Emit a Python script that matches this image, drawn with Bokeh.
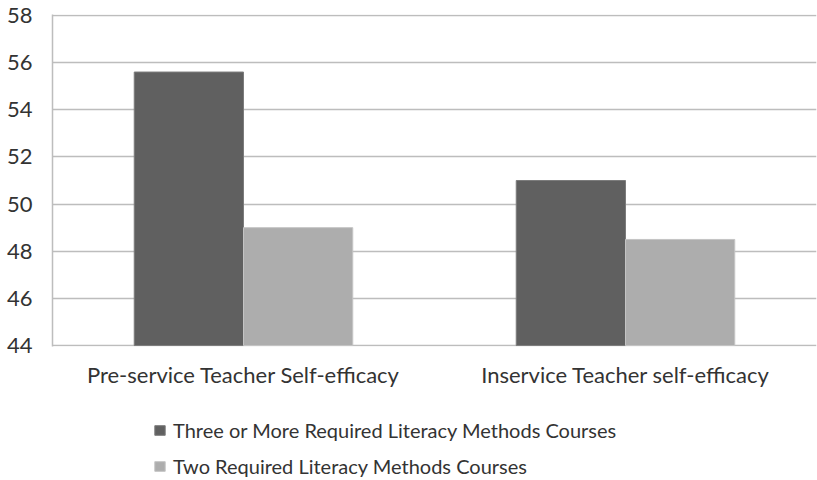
from bokeh.plotting import figure
from bokeh.layouts import column
from bokeh.models import FactorRange, Legend, LegendItem, Range1d, FixedTicker, ColumnDataSource
from bokeh.transform import dodge
from bokeh.embed import file_html
from bokeh.resources import INLINE

categories = ["Pre-service Teacher Self-efficacy", "Inservice Teacher self-efficacy"]
series_names = ["Three or More Required Literacy Methods Courses", "Two Required Literacy Methods Courses"]
three_or_more = [55.6, 51.0]
two_required = [49.0, 48.5]
y_ticks = [44, 46, 48, 50, 52, 54, 56, 58]

FONT = "Lato"
TEXT = "#333333"
DARK = "#606060"
LIGHT = "#adadad"
DARK_EDGE = "#7c7c7c"
LIGHT_EDGE = "#c4c4c4"

src = ColumnDataSource(dict(cat=categories, a=three_or_more, b=two_required))

p = figure(width=817, height=400, x_range=FactorRange(*categories, range_padding=0),
           y_range=Range1d(43.96, 58.04), output_backend="svg", toolbar_location=None,
           min_border_left=52, min_border_right=1, min_border_top=14, min_border_bottom=54)
p.outline_line_color = None

w = 0.286
p.vbar(x=dodge("cat", -w / 2, range=p.x_range), top="a", bottom=44, width=w, source=src,
       fill_color=DARK, line_color=DARK_EDGE, line_width=1)
p.vbar(x=dodge("cat", w / 2, range=p.x_range), top="b", bottom=44, width=w, source=src,
       fill_color=LIGHT, line_color=LIGHT_EDGE, line_width=1)

p.xgrid.grid_line_color = None
p.ygrid.grid_line_color = "#bdbdbd"
p.ygrid.grid_line_width = 1.5
p.yaxis.ticker = FixedTicker(ticks=y_ticks)

for ax in (p.xaxis[0], p.yaxis[0]):
    ax.major_tick_line_color = None
    ax.minor_tick_line_color = None
    ax.major_label_text_font = FONT
    ax.major_label_text_font_size = "22px"
    ax.major_label_text_color = TEXT
p.xaxis.axis_line_color = None
p.yaxis.axis_line_color = "#bdbdbd"
p.yaxis.axis_line_width = 1.5
p.yaxis.major_label_standoff = 14
p.xaxis.major_label_standoff = 8

# legend panel (legend proxies carry no drawable coordinates)
nan = float("nan")
q = figure(width=817, height=80, x_range=Range1d(0, 1), y_range=Range1d(0, 1),
           x_axis_location=None, y_axis_location=None,
           output_backend="svg", toolbar_location=None,
           min_border_left=0, min_border_right=0, min_border_top=0, min_border_bottom=0)
q.grid.visible = False
q.outline_line_color = None
lr1 = q.quad(left=[nan], right=[nan], top=[nan], bottom=[nan],
             fill_color=DARK, line_color=DARK_EDGE)
lr2 = q.quad(left=[nan], right=[nan], top=[nan], bottom=[nan],
             fill_color=LIGHT, line_color=LIGHT_EDGE)

legend = Legend(items=[LegendItem(label=series_names[0], renderers=[lr1]),
                       LegendItem(label=series_names[1], renderers=[lr2])],
                orientation="vertical", location=(101, 2),
                label_text_font=FONT, label_text_font_size="20px", label_text_color=TEXT,
                glyph_width=13, glyph_height=12, label_height=24, spacing=12,
                label_standoff=7, border_line_color=None, background_fill_alpha=0,
                padding=0, margin=0)
q.add_layout(legend, "center")

layout = column(p, q, spacing=0)
open("out.html", "w").write(file_html(layout, INLINE))
